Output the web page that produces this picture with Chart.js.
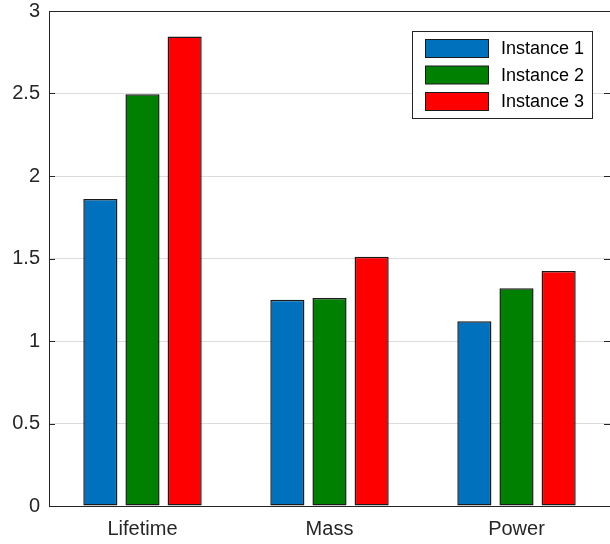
<!DOCTYPE html>
<html>
<head>
<meta charset="utf-8">
<script src="https://cdn.jsdelivr.net/npm/chart.js@4"></script>
<style>
  html, body { margin: 0; padding: 0; background: #fff; }
  #wrap { width: 610px; height: 544px; }
</style>
</head>
<body>
<div id="wrap"><canvas id="chart" width="610" height="544"></canvas></div>
<script>
// ── Data ─────────────────────────────────────────────────────────────────────
const CATEGORIES = ['Lifetime', 'Mass', 'Power'];
const INSTANCE_1 = [1.86, 1.25, 1.12];
const INSTANCE_2 = [2.495, 1.26, 1.32];
const INSTANCE_3 = [2.845, 1.51, 1.425];
const SERIES_LABELS = ['Instance 1', 'Instance 2', 'Instance 3'];
const Y_TICKS = [0, 0.5, 1, 1.5, 2, 2.5, 3];

const COLORS = ['#0072bd', '#008000', '#ff0000'];
const AXIS = '#262626';
const FONT = '"Liberation Sans", Arial, sans-serif';

// ── Plugins ──────────────────────────────────────────────────────────────────

// Small inward tick marks on left and right edges (MATLAB style)
const innerTicks = {
  id: 'innerTicks',
  afterDatasetsDraw(chart) {
    const { ctx, chartArea: a, scales: { y } } = chart;
    ctx.save();
    ctx.strokeStyle = AXIS;
    ctx.lineWidth = 1;
    for (const v of Y_TICKS) {
      const py = Math.round(y.getPixelForValue(v)) + 0.5;
      ctx.beginPath();
      ctx.moveTo(a.left, py); ctx.lineTo(a.left + 6, py);
      ctx.moveTo(a.right, py); ctx.lineTo(a.right - 6, py);
      ctx.stroke();
    }
    ctx.restore();
  }
};

// Boxed legend in the upper right
const boxLegend = {
  id: 'boxLegend',
  afterDraw(chart) {
    const { ctx } = chart;
    const x0 = 412.5, y0 = 31.5, w = 180, h = 87;
    ctx.save();
    ctx.fillStyle = '#fff';
    ctx.fillRect(x0, y0, w, h);
    ctx.strokeStyle = AXIS;
    ctx.lineWidth = 1;
    ctx.strokeRect(x0, y0, w, h);
    ctx.font = '18px ' + FONT;
    ctx.textBaseline = 'middle';
    chart.data.datasets.forEach((ds, i) => {
      const cy = 48.5 + i * 26.5;
      ctx.fillStyle = ds.backgroundColor;
      ctx.fillRect(425.5, cy - 9, 63, 18);
      ctx.strokeStyle = '#1a1a1a';
      ctx.strokeRect(425.5, cy - 9, 63, 18);
      ctx.fillStyle = '#000';
      ctx.fillText(ds.label, 501, cy + 1);
    });
    ctx.restore();
  }
};

// ── Chart ────────────────────────────────────────────────────────────────────

new Chart(document.getElementById('chart').getContext('2d'), {
  type: 'bar',
  data: {
    labels: CATEGORIES,
    datasets: [INSTANCE_1, INSTANCE_2, INSTANCE_3].map((d, i) => ({
      label: SERIES_LABELS[i],
      data: d,
      backgroundColor: COLORS[i],
      borderColor: '#1a1a1a',
      borderWidth: 1.5,
      borderSkipped: false,
      categoryPercentage: 0.676,
      barPercentage: 0.81
    }))
  },
  options: {
    responsive: false,
    animation: false,
    layout: { padding: { top: 11, right: 0, left: 0, bottom: 0 } },
    plugins: { legend: { display: false }, tooltip: { enabled: false } },
    scales: {
      x: {
        grid: { display: false, drawTicks: false },
        border: { color: AXIS, width: 1 },
        ticks: { color: '#262626', font: { size: 20, family: FONT }, padding: 11 },
        afterFit(s) { s.height = 38; }
      },
      y: {
        min: 0,
        max: 3,
        afterBuildTicks(s) { s.ticks = Y_TICKS.map(v => ({ value: v })); },
        grid: {
          drawTicks: false,
          color: c => (c.tick.value === 3 ? AXIS : (c.tick.value === 0 ? 'transparent' : '#dcdcdc'))
        },
        border: { color: AXIS, width: 1 },
        ticks: {
          color: '#262626',
          font: { size: 20, family: FONT },
          padding: 9,
          callback: v => String(v)
        },
        afterFit(s) { s.width = 49; s.paddingTop = 0; s.paddingBottom = 0; }
      }
    }
  },
  plugins: [innerTicks, boxLegend]
});
</script>
</body>
</html>
